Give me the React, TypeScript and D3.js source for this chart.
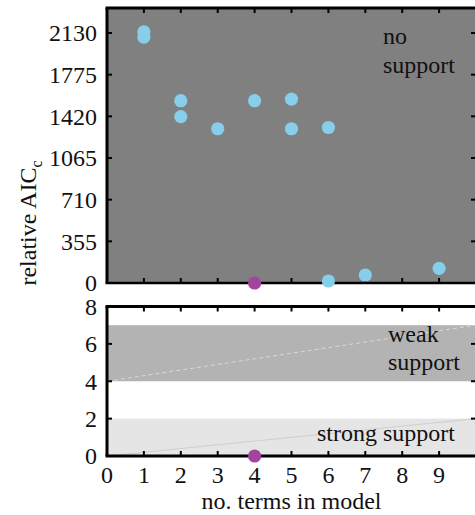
import React from "react";
import * as d3 from "d3";

const termsX = [1, 1, 2, 2, 3, 4, 5, 5, 6, 6, 7, 9];
const aicValues = [2140, 2095, 1553, 1417, 1314, 1553, 1567, 1314, 1325, 17, 68, 125];
const bestX = [4];
const bestAic = [0];
const topTicks = [0, 355, 710, 1065, 1420, 1775, 2130];
const bottomTicks = [0, 2, 4, 6, 8];
const xTicks = [0, 1, 2, 3, 4, 5, 6, 7, 8, 9];
const bands = [
  { lo: 4, hi: 7, fill: "#b3b3b3", line: "#d9d9d9", dash: "4,3" },
  { lo: 0, hi: 2, fill: "#e5e5e5", line: "#cfcfcf", dash: "" },
];

const W = 475;
const H = 515;
const ts: React.CSSProperties = { fontFamily: '"Liberation Serif"', fontSize: "24px" };

export default function App() {
  const x = d3.scaleLinear().domain([0, 10]).range([107, 476]);
  const yTop = d3.scaleLinear().domain([0, 2343]).range([283, 8]);
  const yBot = d3.scaleLinear().domain([0, 8]).range([456, 306.5]);
  const left = x(0);
  const right = x(10);
  const tickLen = 5;
  const cyan = "#87ceeb";
  const purple = "#a3449e";

  return (
    <svg width={W} height={H} style={{ position: "absolute", left: 0, top: 0 }}>
      {/* top panel */}
      <rect x={left} y={yTop.range()[1]} width={right - left + 5} height={yTop(0) - yTop.range()[1]} fill="#808080" />
      {xTicks.slice(1).map((t) => (
        <g key={"tt" + t}>
          <line x1={x(t)} x2={x(t)} y1={yTop.range()[1]} y2={yTop.range()[1] + tickLen} stroke="#000" strokeWidth={2} />
          <line x1={x(t)} x2={x(t)} y1={yTop(0)} y2={yTop(0) - tickLen} stroke="#000" strokeWidth={2} />
        </g>
      ))}
      {topTicks.map((t) => (
        <g key={"yt" + t}>
          <line x1={left} x2={left + tickLen} y1={yTop(t)} y2={yTop(t)} stroke="#000" strokeWidth={2} />
          <line x1={right} x2={right - tickLen} y1={yTop(t)} y2={yTop(t)} stroke="#000" strokeWidth={2} />
          <text x={97} y={yTop(t)} dy="0.35em" textAnchor="end" style={ts} fill="#111">
            {t}
          </text>
        </g>
      ))}
      <line x1={left - 1.5} x2={right + 5} y1={yTop.range()[1]} y2={yTop.range()[1]} stroke="#000" strokeWidth={3} />
      <line x1={left} x2={left} y1={yTop.range()[1]} y2={yTop(0)} stroke="#000" strokeWidth={3} />
      <line x1={left - 1.5} x2={right + 5} y1={yTop(0)} y2={yTop(0)} stroke="#000" strokeWidth={2.5} />
      <text x={383} y={44} style={ts} fill="#111">no</text>
      <text x={383} y={73} style={ts} fill="#111">support</text>
      {termsX.map((tx, i) => (
        <circle key={"p" + i} cx={x(tx)} cy={yTop(aicValues[i])} r={6.6} fill={cyan} />
      ))}
      {bestX.map((bx, i) => (
        <circle key={"bt" + i} cx={x(bx)} cy={yTop(bestAic[i])} r={6.6} fill={purple} />
      ))}

      {/* bottom panel */}
      {bands.map((b, i) => (
        <g key={"b" + i}>
          <rect x={left} y={yBot(b.hi)} width={right - left + 5} height={yBot(b.lo) - yBot(b.hi)} fill={b.fill} />
          <line x1={x(0)} y1={yBot(b.lo)} x2={x(10)} y2={yBot(b.hi)} stroke={b.line} strokeWidth={1} strokeDasharray={b.dash} />
        </g>
      ))}
      <text x={388} y={342} style={ts} fill="#111">weak</text>
      <text x={388} y={370} style={ts} fill="#111">support</text>
      <text x={317} y={441} style={ts} fill="#111">strong support</text>
      {xTicks.slice(1).map((t) => (
        <g key={"bx" + t}>
          <line x1={x(t)} x2={x(t)} y1={yBot(8)} y2={yBot(8) + tickLen} stroke="#000" strokeWidth={2} />
          <line x1={x(t)} x2={x(t)} y1={yBot(0)} y2={yBot(0) - tickLen} stroke="#000" strokeWidth={2} />
        </g>
      ))}
      {bottomTicks.map((t) => (
        <g key={"by" + t}>
          <line x1={left} x2={left + tickLen} y1={yBot(t)} y2={yBot(t)} stroke="#000" strokeWidth={2} />
          <line x1={right} x2={right - tickLen} y1={yBot(t)} y2={yBot(t)} stroke="#000" strokeWidth={2} />
          <text x={97} y={yBot(t)} dy="0.35em" textAnchor="end" style={ts} fill="#111">
            {t}
          </text>
        </g>
      ))}
      <line x1={left - 1.5} x2={right + 5} y1={yBot(8)} y2={yBot(8)} stroke="#000" strokeWidth={3} />
      <line x1={left} x2={left} y1={yBot(8)} y2={yBot(0)} stroke="#000" strokeWidth={3} />
      <line x1={left - 1.5} x2={right + 5} y1={yBot(0)} y2={yBot(0)} stroke="#000" strokeWidth={3} />
      {bestX.map((bx, i) => (
        <circle key={"bb" + i} cx={x(bx)} cy={yBot(bestAic[i])} r={6.6} fill={purple} />
      ))}
      {xTicks.map((t) => (
        <text key={"xl" + t} x={x(t)} y={483} textAnchor="middle" style={ts} fill="#111">
          {t}
        </text>
      ))}
      <text x={(left + right) / 2} y={509} textAnchor="middle" style={ts} fill="#111">
        no. terms in model
      </text>
      <text transform={`translate(36,223) rotate(-90)`} textAnchor="middle" style={ts} fill="#111">
        relative AIC<tspan style={{ fontSize: "16px" }} dy="6">c</tspan>
      </text>
    </svg>
  );
}
